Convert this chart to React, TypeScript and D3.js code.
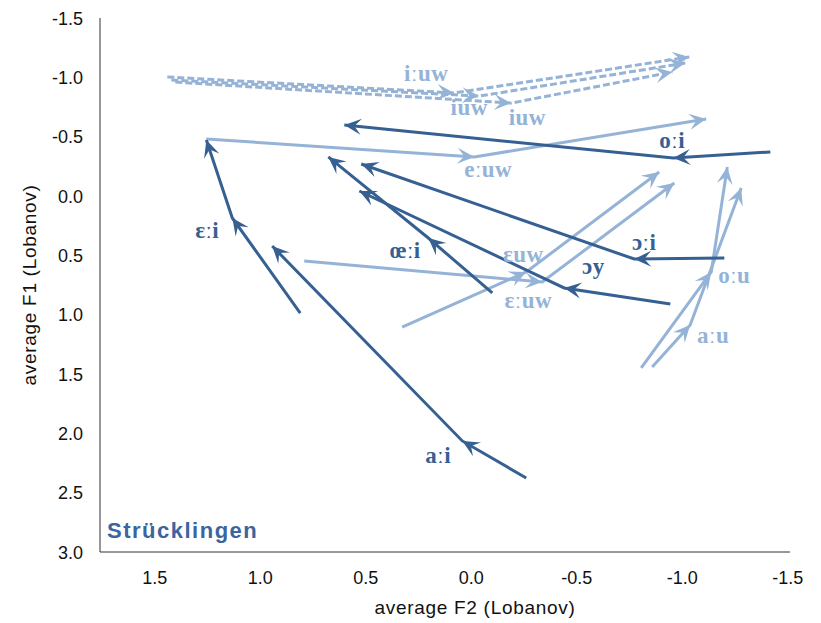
import { useMemo } from 'react';
import * as d3 from 'd3';

// trajectories: [start, mid, end] as [F2, F1]
const oi = [[-1.427, -0.371], [-0.967, -0.32], [0.592, -0.598]];
const openOi = [[-1.209, 0.522], [-0.782, 0.531], [0.512, -0.27]];
const openOy = [[-0.953, 0.91], [-0.45, 0.775], [0.521, -0.042]];
const oeI = [[-0.109, 0.817], [0.194, 0.354], [0.668, -0.329]];
const epsI = [[0.801, 0.986], [1.123, 0.185], [1.246, -0.472]];
const ai = [[-0.27, 2.376], [0.033, 2.064], [0.934, 0.421]];

const iUw = [[1.431, -1.003], [0.071, -0.868], [-1.043, -1.171]];
const iuwA = [[1.412, -0.977], [-0.047, -0.842], [-1.024, -1.12]];
const iuwB = [[1.393, -0.96], [-0.199, -0.783], [-0.962, -1.045]];
const eUw = [[1.246, -0.48], [-0.024, -0.329], [-1.123, -0.649]];
const epsUw = [[0.318, 1.104], [-0.27, 0.64], [-0.9, -0.202]];
const epsLongUw = [[0.782, 0.548], [-0.346, 0.725], [-0.972, -0.11]];
const ou = [[-0.815, 1.449], [-1.147, 0.64], [-1.223, -0.244]];
const au = [[-0.867, 1.441], [-1.047, 1.087], [-1.289, -0.067]];

const darkTracks = [oi, openOi, openOy, oeI, epsI, ai];
const lightSolid = [eUw, epsUw, epsLongUw, ou, au];
const lightDashed = [iUw, iuwA, iuwB];

const darkLabels: [string, number, number][] = [
  ['oːi', -0.962, -0.404],
  ['ɔːi', -0.829, 0.455],
  ['ɔy', -0.588, 0.657],
  ['œːi', 0.303, 0.522],
  ['ɛːi', 1.242, 0.354],
  ['aːi', 0.147, 2.249],
];
const lightLabels: [string, number, number][] = [
  ['iːuw', 0.204, -0.969],
  ['iuw', 0.0, -0.682],
  ['iuw', -0.275, -0.598],
  ['eːuw', -0.09, -0.16],
  ['ɛuw', -0.256, 0.556],
  ['ɛːuw', -0.28, 0.944],
  ['oːu', -1.256, 0.733],
  ['aːu', -1.156, 1.238],
];

const xTicks = [1.5, 1.0, 0.5, 0.0, -0.5, -1.0, -1.5];
const yTicks = [-1.5, -1.0, -0.5, 0.0, 0.5, 1.0, 1.5, 2.0, 2.5, 3.0];

const DARK = '#366092';
const LIGHT = '#95b3d7';
const SANS = '"Liberation Sans", Arial, sans-serif';
const SERIF = '"Liberation Serif", "Times New Roman", serif';

function arrowHead(tx: number, ty: number, fx: number, fy: number) {
  const a = Math.atan2(ty - fy, tx - fx);
  const L = 17, W = 8, N = 10;
  const pts = [[0, 0], [-L, W], [-N, 0], [-L, -W]].map(([px, py]) => [
    tx + px * Math.cos(a) - py * Math.sin(a),
    ty + px * Math.sin(a) + py * Math.cos(a),
  ]);
  return 'M' + pts.map(p => p.join(',')).join('L') + 'Z';
}

export default function App() {
  const width = 821, height = 623;
  const x = useMemo(() => d3.scaleLinear().domain([1.75, -1.5]).range([100, 785.75]), []);
  const y = useMemo(() => d3.scaleLinear().domain([-1.5, 3.0]).range([18, 552]), []);
  const line = d3.line<number[]>().x(d => x(d[0])).y(d => y(d[1]));

  const drawTrack = (t: number[][], color: string, dashed: boolean, key: string) => {
    const p = t.map(d => [x(d[0]), y(d[1])]);
    return (
      <g key={key}>
        <path d={line(t) || ''} fill="none" stroke={color} strokeWidth={3}
          strokeDasharray={dashed ? '7,3' : undefined} />
        <path d={arrowHead(p[1][0], p[1][1], p[0][0], p[0][1])} fill={color} />
        <path d={arrowHead(p[2][0], p[2][1], p[1][0], p[1][1])} fill={color} />
      </g>
    );
  };

  return (
    <svg width={width} height={height} style={{ position: 'absolute', left: 0, top: 0, background: '#fff' }}>
      {/* axes */}
      <line x1={100} x2={100} y1={18} y2={552} stroke="#333" strokeWidth={1} />
      <line x1={100} x2={790} y1={552} y2={552} stroke="#333" strokeWidth={1} />
      {yTicks.map(t => (
        <text key={'y' + t} x={83} y={y(t) + 6.5} textAnchor="end" fontFamily={SANS} fontSize={18} fill="#111">
          {t.toFixed(1)}
        </text>
      ))}
      {xTicks.map(t => (
        <text key={'x' + t} x={x(t) + 2} y={584} textAnchor="middle" fontFamily={SANS} fontSize={18} fill="#111">
          {t.toFixed(1)}
        </text>
      ))}
      <text x={475} y={614} textAnchor="middle" fontFamily={SANS} fontSize={19} letterSpacing={0.7} fill="#111">
        average F2 (Lobanov)
      </text>
      <text transform="translate(36,285) rotate(-90)" textAnchor="middle" fontFamily={SANS} fontSize={19}
        letterSpacing={0.7} fill="#111">
        average F1 (Lobanov)
      </text>

      {lightDashed.map((t, i) => drawTrack(t, LIGHT, true, 'ld' + i))}
      {lightSolid.map((t, i) => drawTrack(t, LIGHT, false, 'ls' + i))}
      {darkTracks.map((t, i) => drawTrack(t, DARK, false, 'd' + i))}

      {lightLabels.map(([s, f2, f1], i) => (
        <text key={'ll' + i} x={x(f2)} y={y(f1)} textAnchor="middle" fontFamily={SERIF}
          fontWeight="bold" fontSize={23} letterSpacing={0.5} fill={LIGHT}>{s}</text>
      ))}
      {darkLabels.map(([s, f2, f1], i) => (
        <text key={'dl' + i} x={x(f2)} y={y(f1)} textAnchor="middle" fontFamily={SERIF}
          fontWeight="bold" fontSize={23} letterSpacing={0.5} fill={DARK}>{s}</text>
      ))}

      <text x={107} y={538} fontFamily={SANS} fontWeight="bold" fontSize={22} fill="#3b64a0" letterSpacing={1.5}>
        Strücklingen
      </text>
    </svg>
  );
}
